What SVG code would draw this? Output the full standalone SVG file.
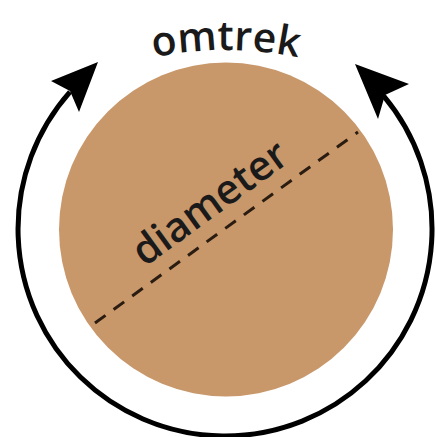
<svg xmlns="http://www.w3.org/2000/svg" width="436" height="437" viewBox="0 0 436 437">
  <style>
    .lbl { font-family: "Open Sans", "DejaVu Sans", sans-serif; font-size: 41px; font-weight: 600; fill: #1a1a1a; }
    .arc { fill: none; stroke: #000; stroke-width: 5; }
    .head { fill: #000; }
  </style>
  <defs>
    <path id="topArc" d="M 26 112.8 A 350 350 0 0 1 426 112.8"/>
  </defs>
  <rect width="436" height="437" fill="#ffffff"/>
  <g id="circle">
    <circle cx="226" cy="229.5" r="167" fill="#c8976a"/>
    <line x1="95" y1="323" x2="358" y2="132" stroke="#2a1c10" stroke-width="3" stroke-dasharray="13 10"/>
    <text class="lbl" transform="translate(218,214) rotate(-36)" text-anchor="middle">diameter</text>
  </g>
  <g id="connectors">
    <path class="arc" d="M 70 91.8 A 207 207 0 1 0 383.6 95.9"/>
    <polygon class="head" points="98,62 51,81 70,91 79,112"/>
    <polygon class="head" points="355,64 409,84 385,95 378,119"/>
  </g>
  <g id="omtrek">
    <text class="lbl"><textPath href="#topArc" startOffset="50%" text-anchor="middle">omtrek</textPath></text>
  </g>
</svg>
